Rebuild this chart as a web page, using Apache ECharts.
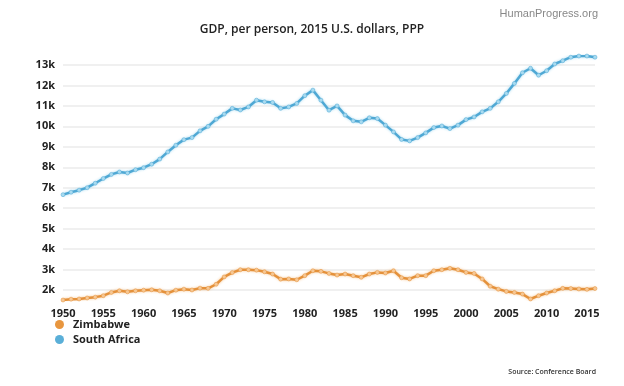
<!DOCTYPE html>
<html><head><meta charset="utf-8">
<script src="https://cdn.jsdelivr.net/npm/echarts@6/dist/echarts.min.js"></script>
<style>html,body{margin:0;padding:0;background:#fff}#c{width:624px;height:386px}</style>
</head><body><div id="c"></div>
<script>
const years = [];
for (let y = 1950; y <= 2016; y++) years.push(String(y));
const zimbabwe = [1510,1550,1560,1610,1650,1720,1880,1960,1910,1960,
  1990,2010,1960,1850,1990,2040,2000,2090,2080,2280,
  2640,2850,2990,2990,2970,2890,2780,2530,2540,2500,
  2700,2940,2910,2810,2730,2780,2700,2620,2780,2860,
  2830,2940,2600,2540,2700,2700,2940,2990,3060,2990,
  2860,2810,2540,2180,2040,1930,1880,1800,1560,1720,
  1850,1960,2080,2070,2050,2030,2070];
const southAfrica = [6660,6780,6880,7000,7220,7450,7650,7770,7720,7880,
  7980,8150,8400,8750,9080,9350,9450,9780,10000,10350,
  10600,10880,10800,10950,11280,11200,11170,10880,10950,11120,
  11500,11770,11280,10790,11000,10550,10270,10220,10420,10380,
  10060,9730,9360,9290,9450,9680,9940,10020,9890,10060,
  10330,10460,10710,10880,11200,11610,12100,12620,12840,12500,
  12720,13050,13210,13380,13440,13440,13380];
const seriesNames = ['Zimbabwe', 'South Africa'];
const titleText = 'GDP, per person, 2015 U.S. dollars, PPP';
const brandText = 'HumanProgress.org';
const sourceText = 'Source: Conference Board';

const chart = echarts.init(document.getElementById('c'));
const F = '"Open Sans", sans-serif';
function mk(name, data, color, glow) {
  return {
    name, type: 'line', data,
    symbol: 'circle', symbolSize: 4, showSymbol: true,
    lineStyle: {color, width: 2.5, shadowColor: glow, shadowBlur: 3},
    itemStyle: {color: glow, borderColor: color, borderWidth: 0.5},
    animation: false
  };
}
chart.setOption({
  backgroundColor: '#fff',
  animation: false,
  title: [
    {text: titleText, left: 'center', top: 19, textStyle: {fontFamily: F, fontSize: 12, fontWeight: 600, color: '#222'}},
    {text: brandText, right: 21, top: 3, textStyle: {fontFamily: '"Liberation Sans", sans-serif', fontSize: 11, fontWeight: 'normal', color: '#888'}},
    {text: sourceText, right: 23, bottom: 6, textStyle: {fontFamily: F, fontSize: 7, fontWeight: 600, color: '#333'}}
  ],
  legend: {
    orient: 'vertical', left: 50, top: 314, itemGap: 4,
    icon: 'circle', itemWidth: 9, itemHeight: 9,
    data: seriesNames.map((n, i) => ({name: n, itemStyle: {color: ['#E8963F', '#5AAFD8'][i], borderWidth: 0}})),
    textStyle: {fontFamily: F, fontSize: 11, fontWeight: 'bold', color: '#222', padding: [0,0,0,4]}
  },
  color: ['#E4913B', '#4FA8D4'],
  grid: {left: 63, right: 29, top: 56, bottom: 86, containLabel: false},
  xAxis: {
    type: 'category', data: years, boundaryGap: false,
    axisLine: {show: false}, axisTick: {show: false},
    axisLabel: {interval: 4, fontFamily: F, fontSize: 11, fontWeight: 'bold', color: '#222', margin: 8},
    splitLine: {show: false}
  },
  yAxis: {
    type: 'value', min: 1510, max: 13440, splitNumber: 12,
    axisLine: {show: false}, axisTick: {show: false},
    axisLabel: {fontFamily: F, fontSize: 11, fontWeight: 'bold', color: '#222', margin: 8,
      showMinLabel: false, showMaxLabel: false,
      formatter: v => (v % 1000 === 0 ? (v/1000) + 'k' : '')},
    splitLine: {show: true, showMinLine: false, showMaxLine: false, lineStyle: {color: '#ebebeb', width: 1.5}}
  },
  series: [
    mk(seriesNames[0], zimbabwe, '#E4913B', '#F6C793'),
    mk(seriesNames[1], southAfrica, '#4FA8D4', '#A8DAF0')
  ]
});
</script></body></html>
